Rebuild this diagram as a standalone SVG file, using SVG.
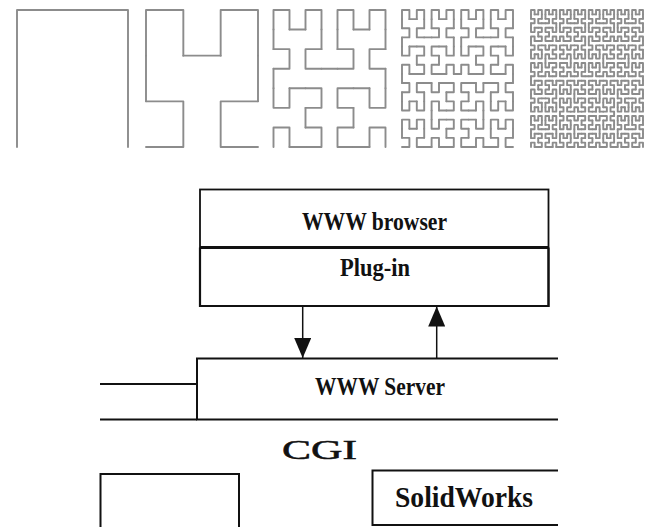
<svg xmlns="http://www.w3.org/2000/svg" xmlns:xlink="http://www.w3.org/1999/xlink" width="654" height="527" viewBox="0 0 654 527">
<style>
.hc{fill:none;stroke:#8c8c8c;stroke-width:1.9;stroke-linejoin:round;stroke-linecap:round}
.ln{fill:none;stroke:#111;stroke-width:2}
.ar{fill:none;stroke:#111;stroke-width:1.5}
.t{font-family:"Liberation Serif","Times New Roman",serif;font-weight:bold;fill:#111}
.cgi{font-family:"Liberation Serif","Times New Roman",serif;font-weight:normal;fill:#111;stroke:#111;stroke-width:0.5}
</style>
<defs>
<path id="h1" class="hc" vector-effect="non-scaling-stroke" d="M0,0V1H1V0"/>
<g id="h2">
<use href="#h1" transform="matrix(0,1,1,0,0,0)"/>
<use href="#h1" transform="translate(0,2)"/>
<use href="#h1" transform="translate(2,2)"/>
<use href="#h1" transform="matrix(0,-1,-1,0,3,1)"/>
<path class="hc" vector-effect="non-scaling-stroke" d="M0,1V2M1,2H2M3,2V1"/>
</g>
<g id="h3">
<use href="#h2" transform="matrix(0,1,1,0,0,0)"/>
<use href="#h2" transform="translate(0,4)"/>
<use href="#h2" transform="translate(4,4)"/>
<use href="#h2" transform="matrix(0,-1,-1,0,7,3)"/>
<path class="hc" vector-effect="non-scaling-stroke" d="M0,3V4M3,4H4M7,4V3"/>
</g>
<g id="h4">
<use href="#h3" transform="matrix(0,1,1,0,0,0)"/>
<use href="#h3" transform="translate(0,8)"/>
<use href="#h3" transform="translate(8,8)"/>
<use href="#h3" transform="matrix(0,-1,-1,0,15,7)"/>
<path class="hc" vector-effect="non-scaling-stroke" d="M0,7V8M7,8H8M15,8V7"/>
</g>
<g id="h5">
<use href="#h4" transform="matrix(0,1,1,0,0,0)"/>
<use href="#h4" transform="translate(0,16)"/>
<use href="#h4" transform="translate(16,16)"/>
<use href="#h4" transform="matrix(0,-1,-1,0,31,15)"/>
<path class="hc" vector-effect="non-scaling-stroke" d="M0,15V16M15,16H16M31,16V15"/>
</g>
<marker id="ah" markerWidth="20" markerHeight="17" refX="20" refY="8.5" orient="auto" markerUnits="userSpaceOnUse">
<path d="M0,0L20,8.5L0,17z" fill="#111"/>
</marker>
</defs>

<g id="hilbert-curves">
<use href="#h1" transform="translate(17,147) scale(111,-137)"/>
<use href="#h2" transform="translate(146,147) scale(37.333,-45.667)"/>
<use href="#h3" transform="translate(273.5,147) scale(16,-19.571)"/>
<use href="#h4" transform="translate(402,147) scale(7.4,-9.1333)"/>
<use href="#h5" transform="translate(531,147) scale(3.6129,-4.4194)"/>
</g>

<g id="browser">
<rect class="ln" x="200" y="189.5" width="348.5" height="116.5" style="stroke-width:1.8"/>
<text class="t" x="302" y="230" font-size="26" textLength="145" lengthAdjust="spacingAndGlyphs">WWW browser</text>
</g>
<g id="plugin">
<line class="ln" x1="200" y1="247.5" x2="548.5" y2="247.5" style="stroke-width:2.8"/>
<path class="ln" d="M200,247.5V306H548.5V247.5" style="stroke-width:2.2"/>
<text class="t" x="340" y="276" font-size="26" textLength="70" lengthAdjust="spacingAndGlyphs">Plug-in</text>
</g>
<g id="server">
<path class="ln" d="M558,358.5H197V419.5H558"/>
<text class="t" x="315" y="395" font-size="26" textLength="130" lengthAdjust="spacingAndGlyphs">WWW Server</text>
</g>
<g id="cgi">
<text class="cgi" x="282" y="459" font-size="27" textLength="75" lengthAdjust="spacingAndGlyphs">CGI</text>
</g>
<g id="left-box">
<path class="ln" d="M100.5,527V474H239V527"/>
</g>
<g id="solidworks">
<path class="ln" d="M558,470.5H372.5V525H558"/>
<text class="t" x="395" y="506.5" font-size="30" textLength="138" lengthAdjust="spacingAndGlyphs">SolidWorks</text>
</g>

<g id="connectors">
<line class="ar" x1="302.7" y1="306" x2="302.7" y2="358" marker-end="url(#ah)"/>
<line class="ar" x1="436.7" y1="358" x2="436.7" y2="306.5" marker-end="url(#ah)"/>
<line class="ln" x1="100" y1="384" x2="197" y2="384"/>
<line class="ln" x1="100" y1="419.5" x2="197" y2="419.5"/>
</g>
</svg>
